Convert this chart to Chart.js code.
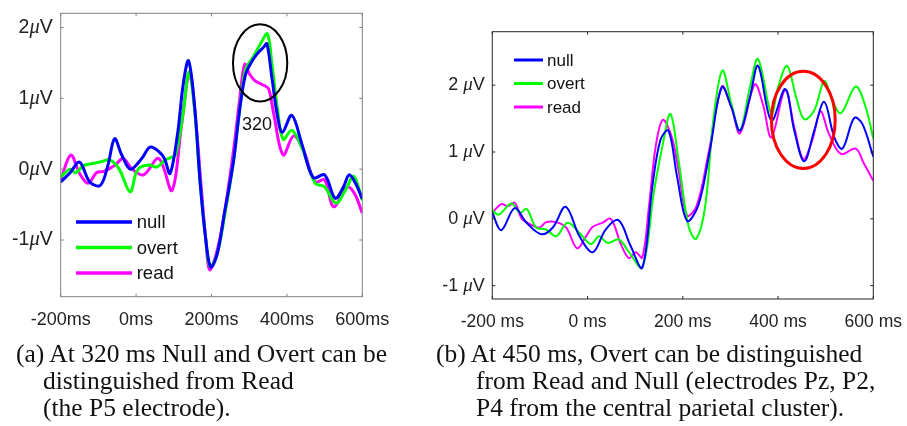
<!DOCTYPE html>
<html>
<head>
<meta charset="utf-8">
<script src="https://cdn.jsdelivr.net/npm/chart.js@4.4.1/dist/chart.umd.min.js"></script>
<style>
  body { margin: 0; background: #fff; width: 907px; height: 426px; overflow: hidden; position: relative; }
  canvas { position: absolute; top: 0; }
  #leftChart { left: 0; }
  #rightChart { left: 440px; }
  .cap { position: absolute; font-family: 'Liberation Serif', serif; font-size: 25.5px; color: #111; white-space: nowrap; line-height: 27px; }
</style>
</head>
<body>
<canvas id="leftChart" width="440" height="340"></canvas>
<canvas id="rightChart" width="467" height="340"></canvas>

<div class="cap" style="left:16px; top:340px;">(a) At 320 ms Null and Overt can be</div>
<div class="cap" style="left:43px; top:367px;">distinguished from Read<br>(the P5 electrode).</div>
<div class="cap" style="left:436px; top:340px;">(b) At 450 ms, Overt can be distinguished</div>
<div class="cap" style="left:476px; top:367px;">from Read and Null (electrodes Pz, P2,<br>P4 from the central parietal cluster).</div>

<script>
// tick values
const xTicks = [-200, 0, 200, 400, 600];
const yTicks = [-1, 0, 1, 2];
const seriesNames = ['null', 'overt', 'read'];
const seriesColors = ['#0000ff', '#00ff00', '#ff00ff'];

// (a) P5 electrode
const aNullT = [-200, -175, -150, -123, -95, -75, -57, -38, -15, 15, 37, 60, 75, 90, 110, 125, 139, 155, 170, 185, 198, 215, 235, 258, 275, 290, 305, 320, 338, 347, 360, 375, 388, 413, 440, 470, 500, 528, 550, 565, 582, 600];
const aNullV = [-0.18, -0.05, 0.1, -0.18, -0.23, 0.05, 0.43, 0.2, 0.0, 0.15, 0.31, 0.25, 0.15, -0.06, 0.5, 1.2, 1.53, 0.9, -0.2, -1.0, -1.38, -1.2, -0.6, 0.1, 0.85, 1.33, 1.5, 1.62, 1.72, 1.77, 1.3, 0.75, 0.52, 0.76, 0.35, -0.12, -0.08, -0.41, -0.25, -0.08, -0.2, -0.42];
const aOvertT = [-200, -175, -160, -140, -115, -95, -70, -45, -16, 0, 12, 35, 55, 75, 95, 105, 125, 140, 155, 170, 185, 196, 215, 235, 258, 275, 290, 310, 330, 348, 360, 375, 390, 413, 440, 475, 500, 530, 555, 577, 600];
const aOvertV = [-0.11, 0.0, -0.05, 0.05, 0.08, 0.1, 0.13, 0.0, -0.32, -0.05, 0.03, 0.06, 0.03, 0.12, 0.17, 0.2, 0.8, 1.37, 0.85, -0.2, -1.0, -1.37, -1.2, -0.65, 0.1, 0.85, 1.4, 1.58, 1.77, 1.91, 1.5, 0.85, 0.42, 0.55, 0.3, -0.2, -0.25, -0.48, -0.3, -0.1, -0.44];
const aReadT = [-200, -173, -150, -127, -105, -85, -55, -35, -10, 20, 60, 95, 120, 142, 158, 172, 185, 195, 215, 235, 258, 275, 288, 300, 315, 340, 352, 365, 390, 418, 445, 475, 500, 524, 560, 580, 600];
const aReadV = [-0.15, 0.2, -0.06, -0.2, -0.05, -0.03, 0.06, 0.15, 0.0, -0.08, 0.15, -0.3, 0.6, 1.37, 0.7, -0.2, -1.0, -1.42, -1.15, -0.6, 0.25, 1.0, 1.48, 1.35, 1.25, 1.18, 1.13, 0.78, 0.2, 0.47, 0.25, -0.18, -0.15, -0.53, -0.25, -0.35, -0.62];

// (b) Pz, P2, P4
const bNullT = [-200, -181, -153, -128, -97, -73, -46, -17, 11, 38, 65, 90, 115, 136, 153, 170, 188, 209, 233, 257, 282, 302, 320, 341, 358, 386, 415, 434, 455, 476, 497, 518, 535, 560, 577, 600];
const bNullV = [0.09, -0.17, 0.16, -0.06, -0.23, -0.13, 0.18, -0.26, -0.5, -0.16, -0.02, -0.4, -0.73, 0.48, 1.18, 1.32, 0.63, -0.03, 0.21, 1.03, 1.97, 1.67, 1.32, 1.82, 2.29, 1.47, 1.94, 1.32, 0.86, 1.32, 1.75, 1.22, 1.05, 1.51, 1.42, 0.93];
const bOvertT = [-200, -187, -160, -142, -128, -108, -87, -66, -42, -17, 7, 24, 42, 66, 87, 115, 139, 157, 174, 191, 212, 228, 247, 264, 283, 302, 320, 341, 358, 386, 400, 419, 438, 455, 476, 497, 514, 532, 563, 584, 600];
const bOvertV = [0.13, 0.06, 0.23, 0.09, 0.15, -0.13, -0.16, -0.26, -0.06, -0.21, -0.38, -0.26, -0.36, -0.31, -0.5, -0.73, 0.39, 1.08, 1.57, 0.88, -0.11, -0.3, 0.19, 1.47, 2.22, 1.72, 1.32, 1.97, 2.39, 1.57, 1.97, 2.29, 1.82, 1.49, 1.62, 2.06, 1.77, 1.58, 1.98, 1.67, 1.2];
const bReadT = [-200, -181, -167, -153, -139, -121, -101, -87, -66, -45, -22, -3, 11, 31, 49, 70, 87, 101, 115, 129, 143, 158, 177, 191, 209, 229, 254, 282, 302, 320, 351, 368, 386, 415, 434, 453, 472, 489, 507, 532, 563, 580, 600];
const bReadV = [0.09, 0.22, 0.19, 0.24, 0.01, -0.08, -0.13, -0.05, -0.05, -0.13, -0.44, -0.26, -0.12, -0.06, 0.0, -0.38, -0.59, -0.5, -0.58, 0.19, 1.08, 1.48, 1.22, 0.73, 0.05, 0.19, 0.98, 1.98, 1.67, 1.28, 2.01, 1.72, 1.22, 1.93, 1.37, 0.89, 1.18, 1.61, 1.27, 0.97, 1.05, 0.83, 0.57];

// highlighted regions (centre ms, centre uV, radius ms, radius uV)
const aEllipse = [329, 1.5, 72, 0.545];
const bEllipse = [453, 1.48, 67, 0.727];
const aNote = { text: '320', t: 321, v: 0.62 };

function points(ts, vs) {
  return ts.map((t, i) => ({ x: t, y: vs[i] }));
}

const decor = {
  id: 'decor',
  afterDatasetsDraw(chart, args, o) {
    const { ctx, chartArea: a, scales: { x, y } } = chart;
    ctx.save();
    // ellipse
    const [et, ev, rt, rv] = o.ellipse;
    const cx = x.getPixelForValue(et), cy = y.getPixelForValue(ev);
    const rx = x.getPixelForValue(et + rt) - cx, ry = cy - y.getPixelForValue(ev + rv);
    ctx.beginPath();
    ctx.ellipse(cx, cy, rx, ry, 0, 0, Math.PI * 2);
    ctx.strokeStyle = o.ellipseColor;
    ctx.lineWidth = o.ellipseWidth;
    ctx.stroke();
    if (o.note) {
      ctx.fillStyle = '#111';
      ctx.font = '18px "Liberation Sans", Arial, sans-serif';
      ctx.textAlign = 'center';
      ctx.textBaseline = 'middle';
      ctx.fillText(o.note.text, x.getPixelForValue(o.note.t), y.getPixelForValue(o.note.v));
    }
    // box and inside ticks
    ctx.strokeStyle = o.boxColor;
    ctx.lineWidth = 1;
    ctx.strokeRect(a.left, a.top, a.right - a.left, a.bottom - a.top);
    ctx.beginPath();
    xTicks.forEach(t => {
      const px = x.getPixelForValue(t);
      ctx.moveTo(px, a.bottom); ctx.lineTo(px, a.bottom - 3);
      ctx.moveTo(px, a.top); ctx.lineTo(px, a.top + 3);
    });
    yTicks.forEach(v => {
      const py = y.getPixelForValue(v);
      ctx.moveTo(a.left, py); ctx.lineTo(a.left + 3, py);
      ctx.moveTo(a.right, py); ctx.lineTo(a.right - 3, py);
    });
    ctx.stroke();
    // y labels with italic mu
    const fs = o.fontSize;
    const sans = fs + 'px "Liberation Sans", Arial, sans-serif';
    const mu = 'italic ' + (fs + 1) + 'px "Liberation Serif", serif';
    ctx.fillStyle = '#222';
    ctx.textAlign = 'left';
    ctx.textBaseline = 'middle';
    yTicks.forEach(v => {
      const py = y.getPixelForValue(v);
      const parts = [[String(v) + o.gap, sans], ['\u03bc', mu], ['V', sans]];
      let w = 0;
      parts.forEach(p => { ctx.font = p[1]; w += ctx.measureText(p[0]).width; });
      let px = a.left - o.labelGap - w;
      parts.forEach(p => { ctx.font = p[1]; ctx.fillText(p[0], px, py); px += ctx.measureText(p[0]).width; });
    });
    // legend
    const lg = o.legend;
    seriesNames.forEach((name, i) => {
      const ly = a.top + lg.top + i * lg.step;
      ctx.beginPath();
      ctx.moveTo(a.left + lg.x0, ly); ctx.lineTo(a.left + lg.x1, ly);
      ctx.strokeStyle = seriesColors[i];
      ctx.lineWidth = lg.width;
      ctx.stroke();
      ctx.fillStyle = '#111';
      ctx.font = lg.font;
      ctx.fillText(name, a.left + lg.tx, ly + 1);
    });
    ctx.restore();
  }
};

function makeChart(id, data, opt) {
  const ctx = document.getElementById(id).getContext('2d');
  return new Chart(ctx, {
    type: 'line',
    data: {
      datasets: data.map((d, i) => ({
        label: seriesNames[i],
        data: points(d[0], d[1]),
        borderColor: seriesColors[i],
        borderWidth: opt.lineWidth,
        pointRadius: 0,
        tension: 0.35,
        fill: false
      }))
    },
    options: {
      responsive: false,
      animation: false,
      devicePixelRatio: 1,
      layout: { padding: opt.padding },
      scales: {
        x: {
          type: 'linear', min: -200, max: 600,
          afterBuildTicks: s => { s.ticks = xTicks.map(v => ({ value: v })); },
          afterFit: s => { s.height = opt.xHeight; },
          grid: { display: false },
          border: { display: false },
          ticks: {
            autoSkip: false, maxRotation: 0, padding: opt.tickPad, color: '#222',
            font: { family: '"Liberation Sans", Arial, sans-serif', size: opt.fontSize },
            callback: v => v + opt.unit
          }
        },
        y: { type: 'linear', min: opt.yMin, max: opt.yMax, display: false }
      },
      plugins: { legend: { display: false }, tooltip: { enabled: false }, decor: opt.decor }
    },
    plugins: [decor]
  });
}

makeChart('leftChart', [[aNullT, aNullV], [aOvertT, aOvertV], [aReadT, aReadV]], {
  lineWidth: 3, fontSize: 18, unit: 'ms', tickPad: 5,
  padding: { left: 60.7, right: 77.7, top: 13.3, bottom: 0 }, xHeight: 43.3,
  yMin: -1.8, yMax: 2.2,
  decor: {
    ellipse: aEllipse, ellipseColor: '#000', ellipseWidth: 2, note: aNote,
    boxColor: '#808080', fontSize: 19.5, gap: '', labelGap: 8,
    legend: { top: 208.7, step: 25.5, x0: 15.3, x1: 71.3, tx: 76, width: 3.5, font: '18.5px "Liberation Sans", Arial, sans-serif' }
  }
});

makeChart('rightChart', [[bNullT, bNullV], [bOvertT, bOvertV], [bReadT, bReadV]], {
  lineWidth: 2, fontSize: 17.5, unit: ' ms', tickPad: 5,
  padding: { left: 52.3, right: 31, top: 31.7, bottom: 0 }, xHeight: 41,
  yMin: -1.2, yMax: 2.8,
  decor: {
    ellipse: bEllipse, ellipseColor: '#ff0000', ellipseWidth: 3, note: null,
    boxColor: '#262626', fontSize: 18, gap: ' ', labelGap: 7.5,
    legend: { top: 28.3, step: 23.5, x0: 21.7, x1: 50.7, tx: 54.7, width: 3, font: '17px "Liberation Sans", Arial, sans-serif' }
  }
});
</script>
</body>
</html>
